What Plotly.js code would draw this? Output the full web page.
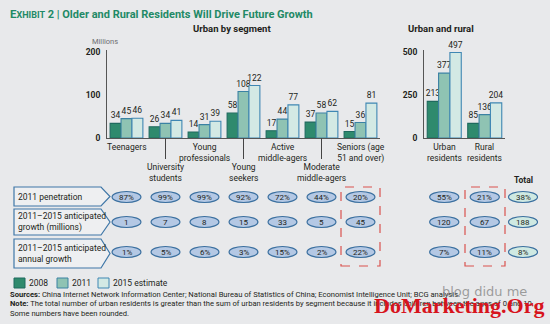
<!DOCTYPE html>
<html><head><meta charset="utf-8">
<script src="https://cdn.plot.ly/plotly-3.0.1.min.js"></script>
<style>html,body{margin:0;padding:0;background:#e8e9eb;overflow:hidden}</style>
</head><body><div id="chart" style="width:550px;height:324px"></div>
<script>
// ---------- data ----------
const segments = ['Teenagers','University students','Young professionals','Young seekers','Active middle-agers','Moderate middle-agers','Seniors (age 51 and over)'];
const segmentLabels = ['Teenagers','University<br>students','Young<br>professionals','Young<br>seekers','Active<br>middle-agers','Moderate<br>middle-agers','Seniors (age<br>51 and over)'];
const segLabelLevel = [0,1,0,1,0,1,0];
const seg2008 = [34,26,14,58,17,37,15];
const seg2011 = [45,34,31,108,44,58,36];
const seg2015 = [46,41,39,122,77,62,81];
const areas = ['Urban residents','Rural residents'];
const areaLabels = ['Urban<br>residents','Rural<br>residents'];
const area2008 = [213,85];
const area2011 = [377,136];
const area2015 = [497,204];
const rowLabels = ['2011 penetration','2011–2015 anticipated<br>growth (millions)','2011–2015 anticipated<br>annual growth'];
const segPenetration = ['87%','99%','99%','92%','72%','44%','20%'];
const segGrowthMil = ['1','7','8','15','33','5','45'];
const segAnnual = ['1%','5%','6%','3%','15%','2%','22%'];
const areaPenetration = ['55%','21%'];
const areaGrowthMil = ['120','67'];
const areaAnnual = ['7%','11%'];
const totals = ['38%','188','8%'];
const seriesNames = ['2008','2011','2015 estimate'];
const segTicks = [0,100,200];
const areaTicks = [0,250,500];

// ---------- styling ----------
const W = 550, H = 324;
const px = x => x / W, py = y => 1 - y / H;
const FONT = 'Roboto, "Open Sans", sans-serif';
const TXT = '#231f20';
const fills = ['#2f8a6d','#8fc3b3','#d3e9e4'];
const lines = ['#1f6a5e','#3b82a3','#3f87b3'];
const BG = '#e8e9eb';

const segSeries = [seg2008, seg2011, seg2015];
const areaSeries = [area2008, area2011, area2015];
const traces = [];
segSeries.forEach((v, k) => traces.push({
  type:'bar', x:segments, y:v, name:seriesNames[k], xaxis:'x', yaxis:'y',
  marker:{color:fills[k], line:{color:lines[k], width:1.1}},
  text:v.map(String), textposition:'outside', constraintext:'none', cliponaxis:false,
  textfont:{family:FONT, size:8.5, color:TXT}, hoverinfo:'skip', showlegend:false
}));
areaSeries.forEach((v, k) => traces.push({
  type:'bar', x:areas, y:v, name:seriesNames[k], xaxis:'x2', yaxis:'y2',
  marker:{color:fills[k], line:{color:lines[k], width:1.1}},
  text:v.map(String), textposition:'outside', constraintext:'none', cliponaxis:false,
  textfont:{family:FONT, size:8.5, color:TXT}, hoverinfo:'skip', showlegend:false
}));

const yDom = [py(138), py(50)];
const shapes = [], annotations = [];

// titles
annotations.push({xref:'paper', yref:'paper', x:px(8), y:py(14), xanchor:'left', yanchor:'middle', showarrow:false,
  text:'<b><span style="font-size:11.5px">E</span><span style="font-size:9px">XHIBIT</span> 2 | Older and Rural Residents Will Drive Future Growth</b>',
  font:{family:FONT, size:11, color:'#1f8a66'}});
annotations.push({xref:'paper', yref:'paper', x:px(232), y:py(29), xanchor:'center', yanchor:'middle', showarrow:false,
  text:'<b>Urban by segment</b>', font:{family:FONT, size:9.5, color:TXT}});
annotations.push({xref:'paper', yref:'paper', x:px(441), y:py(29), xanchor:'center', yanchor:'middle', showarrow:false,
  text:'<b>Urban and rural</b>', font:{family:FONT, size:9.5, color:TXT}});
annotations.push({xref:'paper', yref:'paper', x:px(90), y:py(41), xanchor:'left', yanchor:'middle', showarrow:false,
  text:'Millions', font:{family:FONT, size:7.5, color:'#6d6e71'}});

// category labels
segmentLabels.forEach((t, i) => {
  const lvl = segLabelLevel[i];
  annotations.push({xref:'x', yref:'paper', x:i, y:py(lvl ? 160 : 140), xanchor:'center', yanchor:'top', showarrow:false,
    text:t, font:{family:FONT, size:8.5, color:TXT}});
  if (lvl) shapes.push({type:'line', xref:'x', yref:'paper', x0:i, x1:i, y0:py(138), y1:py(159), line:{color:'#444', width:1}});
});
areaLabels.forEach((t, i) => annotations.push({xref:'x2', yref:'paper', x:i, y:py(140), xanchor:'center', yanchor:'top', showarrow:false,
  text:t, font:{family:FONT, size:8.5, color:TXT}}));

// table rows
const rowBoxes = [[187,206],[209,235],[239,268]];
const rowCenters = [197, 222, 252];
const segRows = [segPenetration, segGrowthMil, segAnnual];
const areaRows = [areaPenetration, areaGrowthMil, areaAnnual];
rowBoxes.forEach(([t, b], r) => {
  const m = (t + b) / 2;
  shapes.push({type:'path', xref:'paper', yref:'paper',
    path:`M${px(14)},${py(t)} L${px(101)},${py(t)} L${px(110)},${py(m)} L${px(101)},${py(b)} L${px(14)},${py(b)} Z`,
    line:{color:'#3f77a8', width:1.2}, fillcolor:'#eeeff1'});
  annotations.push({xref:'paper', yref:'paper', x:px(16), y:py(m), xanchor:'left', yanchor:'middle', align:'left', showarrow:false,
    text:rowLabels[r], font:{family:FONT, size:8.5, color:TXT}});
  const cy = rowCenters[r];
  const ell = (xref, xc, half, val, fill) => {
    shapes.push({type:'circle', xref:xref, yref:'paper', x0:xc-half, x1:xc+half, y0:py(cy+5.5), y1:py(cy-5.5),
      line:{color:'#3a6f9f', width:1.2}, fillcolor:fill});
    annotations.push({xref:xref, yref:'paper', x:xc, y:py(cy), xanchor:'center', yanchor:'middle', showarrow:false,
      text:val, font:{family:FONT, size:8, color:TXT}});
  };
  segRows[r].forEach((v, i) => ell('x', i, 0.37, v, '#b4c8e4'));
  areaRows[r].forEach((v, i) => ell('x2', i, 0.36, v, '#b4c8e4'));
  ell('paper', px(523), px(14.5), totals[r], '#cfe9e2');
});
annotations.push({xref:'paper', yref:'paper', x:px(523), y:py(180), xanchor:'center', yanchor:'middle', showarrow:false,
  text:'<b>Total</b>', font:{family:FONT, size:8.5, color:TXT}});

// dashed highlight boxes
[[341,380],[465,505]].forEach(([a, b]) => shapes.push({type:'rect', xref:'paper', yref:'paper',
  x0:px(a), x1:px(b), y0:py(266), y1:py(187), line:{color:'#d9534f', width:1.2, dash:'dash'}, fillcolor:'rgba(0,0,0,0)'}));

// legend
const legX = [14, 57, 98];
seriesNames.forEach((n, k) => {
  shapes.push({type:'rect', xref:'paper', yref:'paper', x0:px(legX[k]), x1:px(legX[k]+11), y0:py(288), y1:py(278),
    line:{color:lines[k], width:1}, fillcolor:fills[k]});
  annotations.push({xref:'paper', yref:'paper', x:px(legX[k]+13), y:py(283), xanchor:'left', yanchor:'middle', showarrow:false,
    text:n, font:{family:FONT, size:8.5, color:TXT}});
});

// footnotes
const foot = [
  '<b>Sources:</b> China Internet Network Information Center; National Bureau of Statistics of China; Economist Intelligence Unit; BCG analysis.',
  '<b>Note:</b> The total number of urban residents is greater than the sum of urban residents by segment because it includes children between the ages of 0 and 10.',
  'Some numbers have been rounded.'
];
[294, 303.5, 313].forEach((y, i) => annotations.push({xref:'paper', yref:'paper', x:px(8), y:py(y), xanchor:'left', yanchor:'middle', showarrow:false,
  text:foot[i], font:{family:FONT, size:7.6, color:TXT}}));

// watermark
annotations.push({xref:'paper', yref:'paper', x:px(484), y:py(291), xanchor:'center', yanchor:'middle', showarrow:false,
  text:'blog didu me', font:{family:'"DejaVu Sans", sans-serif', size:13, color:'rgba(120,120,120,0.7)'}});
annotations.push({xref:'paper', yref:'paper', x:px(459), y:py(305), xanchor:'center', yanchor:'middle', showarrow:false,
  text:'<b>DoMarketing.Org</b>', font:{family:'"Liberation Serif", "DejaVu Serif", serif', size:22, color:'#d7141d'}});

const axisCommon = {showgrid:false, zeroline:false, showline:true, linecolor:'#555', linewidth:1, ticks:'', fixedrange:true};
const layout = {
  width:W, height:H, margin:{l:0, r:0, t:0, b:0}, paper_bgcolor:BG, plot_bgcolor:'rgba(0,0,0,0)',
  barmode:'group', bargap:0.16, bargroupgap:0, showlegend:false, hovermode:false,
  font:{family:FONT, color:TXT},
  xaxis:Object.assign({}, axisCommon, {domain:[px(107), px(380)], range:[-0.5, 6.5], anchor:'y', showticklabels:false, type:'category'}),
  yaxis:Object.assign({}, axisCommon, {domain:yDom, range:[0, 200*88/86], anchor:'x', tickvals:segTicks,
    tickfont:{family:FONT, size:8.5, color:TXT, weight:'bold'}, ticklabelstandoff:4}),
  xaxis2:Object.assign({}, axisCommon, {domain:[px(424), px(505)], range:[-0.5, 1.5], anchor:'y2', showticklabels:false, type:'category'}),
  yaxis2:Object.assign({}, axisCommon, {domain:yDom, range:[0, 500*88/86], anchor:'x2', tickvals:areaTicks,
    tickfont:{family:FONT, size:8.5, color:TXT, weight:'bold'}, ticklabelstandoff:4}),
  shapes:shapes, annotations:annotations
};
Plotly.newPlot('chart', traces, layout, {displayModeBar:false, staticPlot:true});
</script></body></html>
